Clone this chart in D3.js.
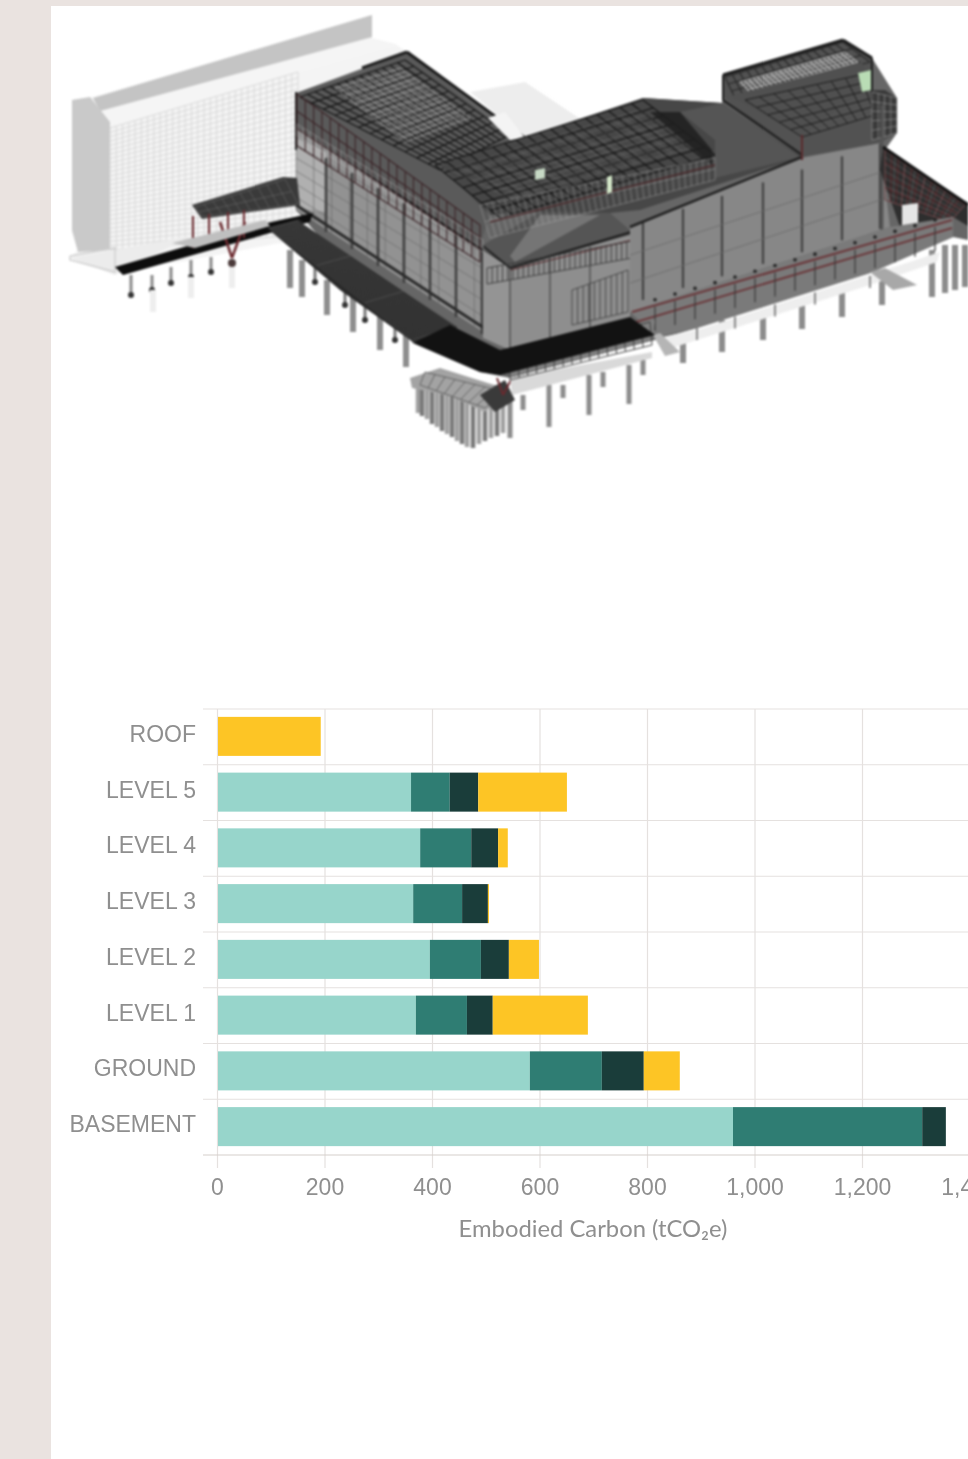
<!DOCTYPE html>
<html><head><meta charset="utf-8">
<script src="https://cdn.jsdelivr.net/npm/d3@7"></script>
<style>
html,body{margin:0;padding:0;background:#fff;width:968px;height:1459px;overflow:hidden}
svg{display:block;font-family:Lato,"Noto Sans",sans-serif}
#art{filter:blur(1px)}
#chart{filter:blur(.6px)}
</style></head><body><svg id="s" width="968" height="1459" viewBox="0 0 968 1459"></svg>
<script>
const floors = ["ROOF","LEVEL 5","LEVEL 4","LEVEL 3","LEVEL 2","LEVEL 1","GROUND","BASEMENT"];
const seriesA = [0,361,378,365,396,370,582,960];
const seriesB = [0,72,95,91,95,95,134,352];
const seriesC = [0,53,50,48,52,48,78,44];
const seriesD = [193,165,18,2,56,177,67,0];
const seriesColors = ["#97d5cb","#2f7d73","#1a3d3a","#fdc525"];
const xTicks = [0,200,400,600,800,1000,1200,1400];
const xTitle = "Embodied Carbon (tCO₂e)";

const svg = d3.select("#s");
svg.append("rect").attr("width",968).attr("height",1459).attr("fill","#eae3e0");
svg.append("rect").attr("x",51).attr("y",6).attr("width",917).attr("height",1453).attr("fill","#fff");

/* ---------- building illustration ---------- */
const art = svg.append("g").attr("id","art");
const P = (pts,fill,op)=>art.append("polygon").attr("points",pts.map(p=>p.join(",")).join(" ")).attr("fill",fill).attr("opacity",op==null?1:op);
const L = (a,b,c,w,op)=>art.append("line").attr("x1",a[0]).attr("y1",a[1]).attr("x2",b[0]).attr("y2",b[1]).attr("stroke",c).attr("stroke-width",w).attr("opacity",op==null?1:op);
const mix=(a,b,t)=>[a[0]+(b[0]-a[0])*t,a[1]+(b[1]-a[1])*t];
function G(a,b,c,d,nu,nv,col,w,op){
  for(let i=0;i<=nu;i++){const t=i/nu;L(mix(a,b,t),mix(d,c,t),col,w,op);}
  for(let j=0;j<=nv;j++){const t=j/nv;L(mix(a,d,t),mix(b,c,t),col,w,op);}
}
const col=(x,y0,y1,c,w)=>L([x,y0],[x,y1],c||"#8b8b8b",w||5);

/* existing building (ghosted) */
P([[72,100],[93,97],[372,15],[372,38],[395,44],[420,60],[300,95],[296,240],[180,262],[115,270],[70,258],[78,250],[72,232]],"#f4f4f4");
P([[93,98],[372,15],[372,37],[100,111]],"#c4c4c4");
P([[100,112],[372,38],[395,46],[110,126]],"#f5f5f5");
P([[72,100],[90,97],[110,122],[110,250],[78,252],[72,230]],"#c9c9c9");
G([110,128],[298,72],[298,235],[110,250],30,28,"#d6d6d6",.9);
P([[70,258],[115,250],[190,236],[115,275]],"#ececec");
art.append("polyline").attr("points","70,256 115,248 115,272 70,260 70,256").attr("fill","none").attr("stroke","#cfcfcf").attr("stroke-width",1.5);
P([[470,92],[525,82],[582,120],[525,138]],"#ededed");

/* piles */
[[131,275,295],[152,275,290],[171,267,283],[191,260,277],[211,257,272]].forEach(d=>{col(d[0],d[1],d[2],"#8a8a8a",3);art.append("circle").attr("cx",d[0]).attr("cy",d[2]).attr("r",3).attr("fill","#333");});
[[153,290,312],[191,277,298],[232,265,288]].forEach(d=>col(d[0],d[1],d[2],"#eeeeee",6));
[[290,250,288],[302,260,297],[327,280,315],[353,295,332],[380,312,350],[406,330,367]].forEach(d=>col(d[0],d[1],d[2],"#8e8e8e",6));
[[315,262,282],[345,285,305],[365,300,320],[395,322,340]].forEach(d=>{col(d[0],d[1],d[2],"#777",3);art.append("circle").attr("cx",d[0]).attr("cy",d[2]).attr("r",3).attr("fill","#333");});
[[683,335,363],[722,320,352],[763,310,340],[802,300,329],[842,285,317],[882,275,305],[932,250,297],[945,245,293],[955,245,290],[965,245,287]].forEach(d=>col(d[0],d[1],d[2],"#8c8c8c",6));
[[510,400,438],[549,385,427],[589,375,415],[629,365,404],[523,395,410],[563,385,398],[603,372,387],[643,360,375]].forEach(d=>col(d[0],d[1],d[2],"#8c8c8c",5));
/* pile cluster */
[[418,413],[422,416],[427,419],[432,424],[437,427],[442,431],[447,434],[452,437],[457,441],[462,444],[467,447],[473,448],[479,444],[485,441],[491,438],[497,436],[503,433]].forEach((d,i)=>col(d[0],385,d[1],i%2?"#7a7a7a":"#a0a0a0",4.5));
P([[410,378],[440,368],[510,390],[485,412],[450,396],[412,388]],"#a3a3a3");
G([425,372],[505,392],[485,408],[420,385],8,1,"#555",1,.8);
P([[480,395],[505,380],[515,400],[495,412]],"#3a3a3a");
L([497,378],[503,395],"#6b2a2f",2);L([512,378],[503,395],"#6b2a2f",2);

/* solid mass behind everything */
P([[296,93],[407,52],[525,138],[643,98],[722,103],[723,75],[843,40],[872,58],[897,98],[897,133],[885,150],[968,203],[968,240],[953,237],[870,273],[697,328],[655,340],[510,378],[480,372],[413,343],[296,210]],"#666666");

/* main left wall */
P([[296,128],[490,255],[510,350],[296,210]],"#929292");
P([[296,138],[326,152],[326,212],[296,208]],"#b0b0b0");
G([296,145],[510,268],[510,350],[296,210],12,5,"#636363",.8,.75);
[326,352,378,404,430,456,482].forEach((x,i)=>L([x,158+i*15],[x,232+i*17],"#3f3f3f",2.5));
L([326,146],[500,262],"#1f1f1f",2.2);L([296,205],[510,345],"#2b2b2b",3);

/* pavilion */
P([[483,250],[510,268],[510,350],[483,338]],"#949494");
P([[510,268],[630,235],[630,320],[510,350]],"#8e8e8e");
P([[483,245],[510,268],[632,232],[610,213],[540,212]],"#555");
P([[510,256],[540,215],[600,215],[515,262]],"#757575");
L([483,246],[510,268],"#222",2);L([510,268],[632,232],"#222",2.5);L([510,270],[632,240],"#5b2a2d",1.2);
G([487,268],[632,241],[632,258],[487,284],28,1,"#3b3b3b",.9);
G([572,290],[628,270],[628,312],[572,325],10,1,"#444",.9);
[510,550,590].forEach(x=>L([x,268-(x-510)*.27],[x,350-(x-510)*.25],"#444",1.2));

/* right wall */
P([[630,227],[802,158],[880,143],[890,227],[630,312]],"#878787");
[643,683,722,763,802,842,880].forEach(x=>L([x,222-(x-643)*.33],[x,300-(x-643)*.3],"#424242",2.2));
[0.33,.66].forEach(t=>L(mix([630,227],[630,312],t),mix([885,143],[885,227],t),"#6a6a6a",.8));

/* roofs */
P([[297,93],[362,72],[407,52],[510,135],[520,145],[445,165],[490,215],[480,245],[330,150],[297,125]],"#5a5a5a");
G([300,97],[405,60],[510,135],[440,170],14,12,"#161616",1.3);
G([335,88],[400,68],[470,118],[405,142],18,14,"#d8d8d8",.8,.55);
L([362,68],[407,52],"#222",3);L([407,52],[525,138],"#1a1a1a",3);
L([296,92],[296,150],"#222",2);
G([297,94],[480,225],[480,262],[297,146],22,3,"#3a2326",1.2,.9);
G([297,124],[483,240],[483,252],[297,136],30,1,"#bdbdbd",.7,.6);
P([[505,112],[525,138],[510,140],[488,118]],"#f4f4f4");
P([[440,165],[643,98],[722,103],[802,157],[640,210],[610,213],[540,212],[490,215]],"#474747");
G([435,165],[643,100],[715,155],[500,218],18,7,"#181818",1.3);
G([450,170],[640,110],[690,148],[510,198],20,8,"#a8a8a8",.6,.35);
P([[680,112],[722,103],[800,157],[715,178],[715,140]],"#555");
P([[650,112],[680,112],[712,150],[712,165]],"#1f1f1f",.85);
G([480,205],[715,158],[715,180],[490,238],38,2,"#b0b0b0",.8,.55);
L([630,227],[802,157],"#222",2.5);
L([490,222],[715,165],"#4b2a2c",1.5);
P([[535,170],[545,168],[545,178],[535,180]],"#c6d8c4");P([[607,177],[612,175],[612,192],[607,194]],"#d3e6c8");

/* upper box */
P([[723,75],[843,40],[872,58],[872,100],[897,98],[897,133],[880,143],[802,157],[723,97]],"#525252");
G([725,77],[843,42],[870,62],[735,98],16,3,"#2a2a2a",1.2);
G([740,82],[845,52],[858,62],[750,92],24,4,"#dcdcdc",1.1,.7);
P([[730,96],[862,62],[870,85],[802,135]],"#505050");
G([745,100],[860,75],[875,115],[802,137],8,5,"#1d1d1d",1);
P([[858,73],[871,70],[871,90],[862,92]],"#b9dcb5");
L([723,75],[843,40],"#1d1d1d",3);L([843,40],[872,58],"#1d1d1d",3);L([872,58],[872,100],"#1d1d1d",2);
L([723,75],[723,100],"#1d1d1d",2);L([723,100],[802,155],"#222",2.5);L([802,135],[802,160],"#5b2a2d",2);
P([[872,90],[885,90],[897,98],[897,133],[872,140]],"#3a3a3a");
G([872,92],[897,98],[897,133],[872,140],4,5,"#a5a5a5",.8,.7);
L([882,105],[882,230],"#555",3);

/* right wing */
P([[883,147],[968,203],[968,226],[953,217],[900,227],[880,170]],"#2e2e2e");
G([885,150],[965,205],[950,222],[885,200],12,4,"#5b2a2d",1);
G([885,150],[965,205],[950,222],[885,200],8,7,"#b0b0b0",.6,.4);
P([[902,205],[918,203],[918,225],[902,226]],"#e5e5e5");
L([883,147],[968,205],"#111",3);

/* plinth */
P([[630,312],[890,227],[953,217],[953,237],[870,273],[697,328],[657,337]],"#7a7a7a");
L([632,312],[952,220],"#6b3a3d",2.2);L([636,322],[952,228],"#6b3a3d",2);
for(const x of [655,675,695,715,735,755,775,795,815,835,855,875,895,915,935]){const y=311-(x-640)*.285;L([x,y],[x,y+24],"#3a3a3a",1.2);art.append("circle").attr("cx",x).attr("cy",y-7).attr("r",1.8).attr("fill","#222");}
P([[657,338],[697,330],[870,275],[940,252],[937,262],[870,285],[697,340],[665,350]],"#eeeeee");
[697,735,775,815,870].forEach(x=>L([x,328-(x-697)*.3],[x,340-(x-697)*.3],"#666",1.5));
P([[870,272],[885,268],[917,285],[893,290]],"#a8a8a8");
P([[653,335],[660,333],[680,352],[665,356]],"#b5b5b5");
P([[510,355],[655,320],[652,340],[510,378]],"#7f7f7f");
P([[510,378],[652,352],[652,358],[512,395]],"#d9d9d9");
G([510,358],[650,322],[652,345],[510,380],16,1,"#3f3f3f",1);

/* black decks */
P([[115,267],[267,223],[313,213],[310,222],[270,233],[123,275]],"#0d0d0d");
P([[267,228],[297,220],[427,307],[457,327],[450,338],[413,342],[340,290]],"#2a2a2a");
G([269,228],[299,220],[455,327],[413,340],14,3,"#6d6d6d",.7,.6);
P([[413,343],[450,325],[500,350],[630,317],[655,335],[500,375],[480,372]],"#121212");
P([[192,205],[283,177],[297,178],[300,205],[202,219]],"#3a3a3a");
G([195,207],[285,179],[298,204],[203,217],10,2,"#888",.6,.6);
[[193,216,248],[209,214,240],[228,212,238],[244,210,238]].forEach(d=>L([d[0],d[1]],[d[0],d[2]],"#6b2a2f",2));
L([220,222],[232,258],"#6b2a2f",2.5);L([245,222],[232,258],"#6b2a2f",2.5);
P([[172,243],[265,220],[270,226],[195,248]],"#bfbfbf");
art.append("circle").attr("cx",232).attr("cy",263).attr("r",4).attr("fill","#4a3a3a");

/* ---------- chart ---------- */
const chart = svg.append("g").attr("id","chart");
const x = d3.scaleLinear().domain([0,1400]).range([217,969.5]);
const y = d3.scaleBand().domain(floors).range([709,1155]).paddingInner(.3).paddingOuter(.15);
const ink = "#8f8f8f", grid = "#e5e1df";

const gx = chart.append("g").attr("transform","translate(0,1155)")
  .call(d3.axisBottom(x).tickValues(xTicks).tickFormat(d3.format(",")).tickSize(13).tickPadding(11));
gx.select(".domain").remove();
gx.selectAll("line").attr("y1",-446).attr("stroke",grid).attr("stroke-width",1.2);
gx.selectAll("text").attr("font-size",23).attr("fill",ink);

const rowEdges = d3.range(0,floors.length+1).map(i=>709+i*y.step());
chart.append("g").selectAll("line").data(rowEdges).join("line")
  .attr("x1",203).attr("x2",968).attr("y1",d=>d).attr("y2",d=>d)
  .attr("stroke",(d,i)=>i===floors.length?"#d6d0cc":grid).attr("stroke-width",1.2);

const gy = chart.append("g").attr("transform","translate(217,-2.5)")
  .call(d3.axisLeft(y).tickSize(0).tickPadding(21));
gy.select(".domain").remove();
gy.selectAll("text").attr("font-size",23).attr("fill",ink);

const table = floors.map((f,i)=>({floor:f,a:seriesA[i],b:seriesB[i],c:seriesC[i],d:seriesD[i]}));
const stack = d3.stack().keys(["a","b","c","d"])(table);
chart.append("g").selectAll("g").data(stack).join("g")
  .attr("fill",(d,i)=>seriesColors[i])
  .selectAll("rect").data(d=>d.filter(s=>s[1]>s[0]))
  .join("rect")
  .attr("x",d=>x(d[0])+(d[0]===0?1:0))
  .attr("width",d=>x(d[1])-x(d[0])-(d[0]===0?1:0))
  .attr("y",d=>y(d.data.floor)-.5)
  .attr("height",y.bandwidth());

chart.append("text").attr("x",593).attr("y",1237).attr("text-anchor","middle")
  .attr("font-size",23.8).attr("fill",ink).text(xTitle);
</script></body></html>
